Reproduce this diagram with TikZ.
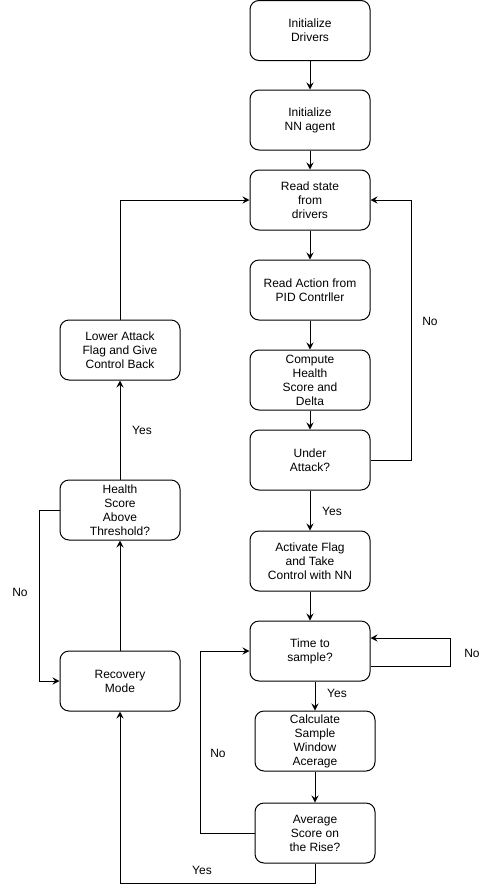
\documentclass[tikz,border=0pt]{standalone}
\usepackage{fontspec}
\setmainfont{Liberation Sans}
\usetikzlibrary{arrows.meta}
\begin{document}
\begin{tikzpicture}[x=1pt,y=-1pt,
  box/.style={draw, line width=1pt, rounded corners=9pt, minimum width=120pt, minimum height=60pt, inner sep=0pt, align=center, font=\fontsize{12}{14}\selectfont},
  conn/.style={line width=1pt, -{Stealth[length=7pt,width=7pt,inset=2.5pt]}},
  lbl/.style={font=\fontsize{12}{14}\selectfont}]
\useasboundingbox (0,0) rectangle (491,892);
\fill[white] (0,0) rectangle (491,892);
\node[box] (init) at (310,30.5) {Initialize\\Drivers};
\node[box] (nn) at (310,120) {Initialize\\NN agent};
\node[box] (read) at (310,200) {Read state\\from\\drivers};
\node[box] (pid) at (310,290) {Read Action from\\PID Contrller};
\node[box] (comp) at (310,380) {Compute\\Health\\Score and\\Delta};
\node[box] (under) at (310,460) {Under\\Attack?};
\node[box] (act) at (310,561) {Activate Flag\\and Take\\Control with NN};
\node[box] (time) at (310,651) {Time to\\sample?};
\node[box] (calc) at (315,741) {Calculate\\Sample\\Window\\Acerage};
\node[box] (avg) at (315,833) {Average\\Score on\\the Rise?};
\node[box] (lower) at (120,350) {Lower Attack\\Flag and Give\\Control Back};
\node[box] (health) at (120,510) {Health\\Score\\Above\\Threshold?};
\node[box] (rec) at (120,681) {Recovery\\Mode};

\draw[conn] (init) -- (nn);
\draw[conn] (nn) -- (read);
\draw[conn] (read) -- (pid);
\draw[conn] (pid) -- (comp);
\draw[conn] (comp) -- (under);
\draw[conn] (under) -- (act);
\draw[conn] (act) -- (time);
\draw[conn] (under.east) -- ++(41,0) |- (read.east);
\draw[conn] ([yshift=-15pt]time.east) -- ++(80,0) |- ([yshift=13pt]time.east);
\draw[conn] (time.south -| calc) -- (calc.north);
\draw[conn] (calc) -- (avg);
\draw[conn] (avg.west) -- ++(-54,0) |- (time.west);
\draw[conn] (avg.south) -- ++(0,20) -| (rec.south);
\draw[conn] (rec) -- (health);
\draw[conn] (health) -- (lower);
\draw[conn] (health.west) -- ++(-20,0) |- (rec.west);
\draw[conn] (lower.north) |- (read.west);

\node[lbl] (l1) at (430,321) {No};
\node[lbl] (l2) at (332,511) {Yes};
\node[lbl] (l3) at (472,653) {No};
\node[lbl] (l4) at (337,693) {Yes};
\node[lbl] (l5) at (218,753) {No};
\node[lbl] (l6) at (202,870) {Yes};
\node[lbl] (l7) at (142,430) {Yes};
\node[lbl] (l8) at (20,592) {No};
\end{tikzpicture}
\end{document}
